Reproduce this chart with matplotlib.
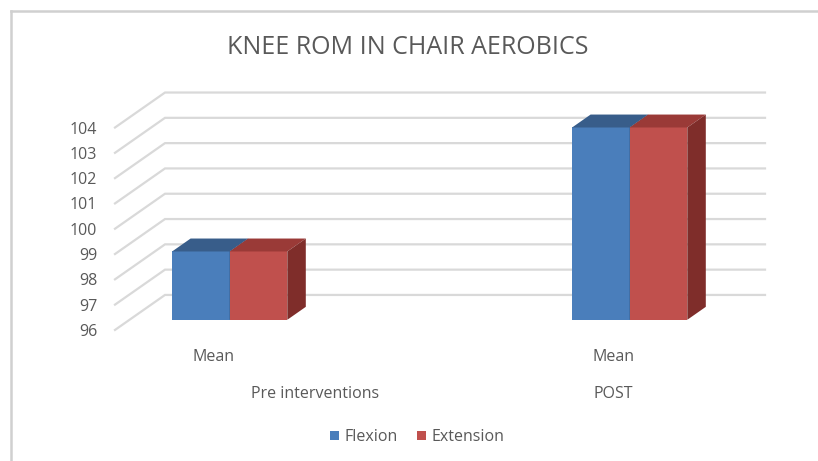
import matplotlib.pyplot as plt
import matplotlib
from matplotlib.patches import Polygon, Rectangle

matplotlib.rcParams['font.family'] = ['Open Sans', 'DejaVu Sans']

# data
groups = ['Pre interventions', 'POST']
sub_labels = ['Mean', 'Mean']
series = ['Flexion', 'Extension']
flexion = [98.7, 103.6]
extension = [98.7, 103.6]
ticks = [96, 97, 98, 99, 100, 101, 102, 103, 104]

front_col = {'Flexion': '#4a7ebb', 'Extension': '#c0504d'}
top_col = {'Flexion': '#385d8a', 'Extension': '#9a3a37'}
side_col = {'Flexion': '#2f4f77', 'Extension': '#7f2d2a'}
text_col = '#595959'
grid_col = '#d9d9d9'

# depth of the fake 3d box (floor edge -> back wall), in data units
DX = 0.125
DY = 1.383
BAR_D0 = 0.29     # bar front depth
BAR_D1 = 0.66     # bar back depth
BW = 0.144        # single bar width
BASE = 96


def dep(x, v, d):
    return (x + d * DX, v + d * DY)


fig = plt.figure(figsize=(8.18, 4.61), dpi=100)
ax = fig.add_axes([0, 0, 1, 1])
ax.set_xlim(-0.538, 1.507)
ax.set_ylim(90.82, 109.04)
ax.axis('off')

# chart border (left and top only, the rest runs off the page)
fx = 11 / 818
fy = 1 - 11 / 461
fig.add_artist(plt.Line2D([fx, fx], [0, fy], transform=fig.transFigure,
                          color='#d0d0d0', lw=1.8))
fig.add_artist(plt.Line2D([fx, 1], [fy, fy], transform=fig.transFigure,
                          color='#d0d0d0', lw=1.8))

# back wall gridlines + floor diagonals
x_left = -0.2505
x_right = 1.2495
for t in ticks:
    p0 = dep(x_left, t, 0)
    p1 = dep(x_left, t, 1)
    p2 = dep(x_right, t, 1)
    ax.plot([p0[0], p1[0], p2[0]], [p0[1], p1[1], p2[1]],
            color=grid_col, lw=1.6, solid_joinstyle='miter', zorder=1)
    ax.text(-0.2955, t - 0.08, str(t), ha='right', va='center',
            fontsize=11.5, color=text_col)

# bars
for i in range(len(groups)):
    vals = [flexion[i], extension[i]]
    for j, name in enumerate(series):
        v = vals[j]
        xl = i - BW + j * BW
        xr = xl + BW
        fl = dep(xl, BASE, BAR_D0)
        fr = dep(xr, BASE, BAR_D0)
        tl = dep(xl, v, BAR_D0)
        tr = dep(xr, v, BAR_D0)
        bl = dep(xl, v, BAR_D1)
        br = dep(xr, v, BAR_D1)
        sb = dep(xr, BASE, BAR_D1)
        z = 3 + j
        ax.add_patch(Polygon([fl, fr, tr, tl], closed=True,
                             facecolor=front_col[name], edgecolor='none', zorder=z))
        ax.add_patch(Polygon([tl, tr, br, bl], closed=True,
                             facecolor=top_col[name], edgecolor='none', zorder=z))
        ax.add_patch(Polygon([fr, sb, br, tr], closed=True,
                             facecolor=side_col[name], edgecolor='none', zorder=z))

# category labels
for i in range(len(groups)):
    ax.text(i - 0.005, 94.95, sub_labels[i], ha='center', va='center',
            fontsize=11.5, color=text_col)
ax.text(0.25, 93.45, groups[0], ha='center', va='center', fontsize=11.5, color=text_col)
ax.text(0.995, 93.45, groups[1], ha='center', va='center', fontsize=11.5, color=text_col)

fig.text(0.499, 0.898, 'KNEE ROM IN CHAIR AEROBICS', ha='center', va='center',
         fontsize=18, color=text_col)

# legend
handles = [Rectangle((0, 0), 1, 1, facecolor=front_col[s], edgecolor='none') for s in series]
fig.legend(handles, series, loc='center', bbox_to_anchor=(0.51, 0.052), ncol=2,
           frameon=False, fontsize=11.5, labelcolor=text_col, handlelength=0.55,
           handleheight=0.55, handletextpad=0.35, columnspacing=1.2)

fig.savefig('out.png', dpi=100)
